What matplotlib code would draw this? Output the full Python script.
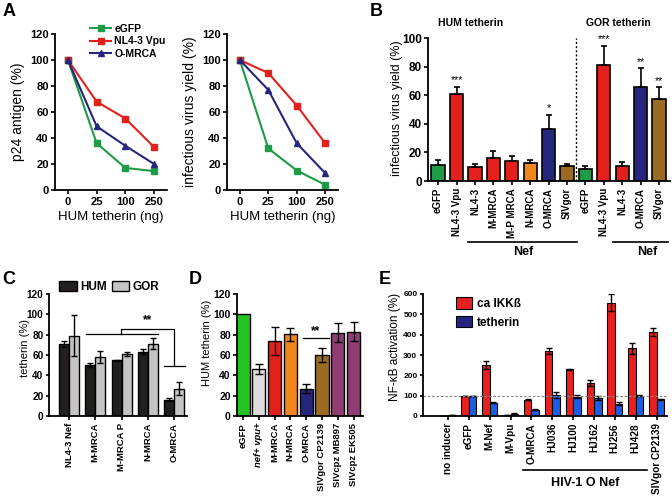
import matplotlib
matplotlib.use("Agg")
import matplotlib.pyplot as plt
from matplotlib.lines import Line2D
from matplotlib.patches import Patch
import numpy as np

plt.rcParams['font.family'] = ['Liberation Sans', 'DejaVu Sans']
plt.rcParams['font.weight'] = 'bold'

# ---- data ----
# A: dose response
a_doses = ['0', '25', '100', '250']
a_p24_egfp = [100, 36, 17, 14.5]
a_p24_vpu = [100, 68, 55, 33]
a_p24_omrca = [100, 49, 34, 20]
a_inf_egfp = [100, 32, 15, 4]
a_inf_vpu = [100, 90, 65, 36]
a_inf_omrca = [100, 77, 36, 13]

# B: infectious virus yield
b_labels = ['eGFP', 'NL4-3 Vpu', 'NL4-3', 'M-MRCA', 'M-P MRCA', 'N-MRCA', 'O-MRCA', 'SIVgor',
            'eGFP', 'NL4-3 Vpu', 'NL4-3', 'O-MRCA', 'SIVgor']
b_values = [11, 60.5, 9.8, 16.4, 13.8, 12.6, 36.5, 10.3, 8.2, 81, 10.5, 66, 57]
b_errors = [3.5, 5.5, 2.2, 4.4, 3.5, 1.9, 10, 1.9, 2.1, 13.5, 2.8, 12.7, 8.5]
b_stars = ['', '***', '', '', '', '', '*', '', '', '***', '', '**', '**']

# C: tetherin HUM / GOR
c_labels = ['NL4-3 Nef', 'M-MRCA', 'M-MRCA P', 'N-MRCA', 'O-MRCA']
c_hum = [71, 50, 55, 63, 16]
c_hum_err = [3, 2, 0.5, 2.5, 1.5]
c_gor = [79, 58, 61, 71, 27]
c_gor_err = [20, 6, 2, 5.5, 6]

# D: HUM tetherin
d_labels = ['eGFP', 'nef+ vpu+', 'M-MRCA', 'N-MRCA', 'O-MRCA', 'SIVgor CP2139', 'SIVcpz MB897', 'SIVcpz EK505']
d_values = [100, 46.5, 74, 80.5, 27, 60, 82, 83]
d_errors = [0, 5, 14, 6.5, 4, 7, 9, 9.5]

# E: NF-kB activation
e_labels = ['no inducer', 'eGFP', 'M-Nef', 'M-Vpu', 'O-MRCA', 'HJ036', 'HJ100', 'HJ162', 'HJ256', 'HJ428', 'SIVgor CP2139']
e_ikk = [0, 100, 250, 3, 81, 319, 229, 163, 557, 332, 413]
e_ikk_err = [0, 0, 21, 0, 3, 16, 2, 13, 43, 27, 18]
e_teth = [3, 100, 66, 12, 31, 102, 94, 90, 61, 99, 82]
e_teth_err = [0, 0, 3, 2, 3, 15, 7, 10, 6, 2, 4]

GREEN = '#1f9a47'
RED = '#e3211c'
ORANGE = '#f0861c'
NAVY = '#27267f'
BROWN = '#9b6b23'
PURPLE = '#8f3d72'

fig = plt.figure(figsize=(6.72, 5), dpi=100)
W, H = 672.0, 500.0


def px_axes(x0, y0, x1, y1):
    ax = fig.add_axes([x0 / W, 1 - y1 / H, (x1 - x0) / W, (y1 - y0) / H])
    ax.spines['top'].set_visible(False)
    ax.spines['right'].set_visible(False)
    ax.spines['left'].set_linewidth(1.3)
    ax.spines['bottom'].set_linewidth(1.3)
    ax.tick_params(direction='out', length=3, width=1.2)
    ax.tick_params(axis='y', pad=1.5)
    ax.tick_params(axis='x', pad=2)
    return ax


def ftext(x, y, s, **kw):
    fig.text(x / W, 1 - y / H, s, **kw)


def fline(x0, x1, y, lw=1.2):
    fig.add_artist(Line2D([x0 / W, x1 / W], [1 - y / H, 1 - y / H], color='black', lw=lw,
                          transform=fig.transFigure))


# ---- panel A ----
for idx, (x0, x1, ylab, series) in enumerate([
        (55, 167, 'p24 antigen (%)', (a_p24_egfp, a_p24_vpu, a_p24_omrca)),
        (227, 338, 'infectious virus yield (%)', (a_inf_egfp, a_inf_vpu, a_inf_omrca))]):
    ax = px_axes(x0, 34, x1, 190)
    x = np.arange(len(a_doses))
    ax.plot(x, series[0], '-s', color=GREEN, ms=4.5, lw=1.5, label='eGFP')
    ax.plot(x, series[1], '-s', color=RED, ms=4.5, lw=1.5, label='NL4-3 Vpu')
    ax.plot(x, series[2], '-^', color=NAVY, ms=4.5, lw=1.5, label='O-MRCA')
    ax.set_xlim(-0.45, 3.45)
    ax.set_ylim(0, 120)
    ax.set_yticks([0, 20, 40, 60, 80, 100, 120])
    ax.set_xticks(x)
    ax.set_xticklabels(a_doses)
    ax.tick_params(labelsize=8)
    ax.set_xlabel('HUM tetherin (ng)', fontsize=9.5, labelpad=3)
    ax.set_ylabel(ylab, fontsize=10)
    ax.yaxis.set_label_coords(-0.27, 0.5)
    if idx == 0:
        ax.legend(loc='upper left', bbox_to_anchor=(0.27, 1.1), frameon=False, fontsize=7.5,
                  handlelength=2.0, handletextpad=0.3, labelspacing=0.25, borderpad=0)
ftext(9, 12, 'A', fontsize=13, ha='center', va='center')

# ---- panel B ----
axb = px_axes(428, 38, 670, 181)
xb = np.arange(len(b_labels))
b_colors = [GREEN, RED, RED, RED, RED, ORANGE, NAVY, BROWN, GREEN, RED, RED, NAVY, BROWN]
axb.bar(xb, b_values, width=0.72, color=b_colors, edgecolor='black', lw=1.2)
axb.errorbar(xb, b_values, yerr=[np.zeros(len(b_values)), b_errors], fmt='none', ecolor='black',
             elinewidth=1.2, capsize=2.5, capthick=1.2)
for xi, v, e, s in zip(xb, b_values, b_errors, b_stars):
    if s:
        axb.text(xi, v + e + 1, s, ha='center', va='bottom', fontsize=7.5, fontweight='normal')
axb.axvline(7.5, color='black', lw=1, ls=(0, (1.5, 1.5)))
axb.set_xlim(-0.55, 12.6)
axb.set_ylim(0, 100)
axb.set_yticks([0, 20, 40, 60, 80, 100])
axb.set_xticks(xb)
axb.set_xticklabels(b_labels, rotation=90, fontsize=7)
axb.tick_params(axis='y', labelsize=8.5)
axb.set_ylabel('infectious virus yield (%)', fontsize=9)
axb.yaxis.set_label_coords(-0.103, 0.51)
ftext(471, 23, 'HUM tetherin', fontsize=7.5, ha='center', va='center')
ftext(618, 23, 'GOR tetherin', fontsize=7.5, ha='center', va='center')
fline(468, 577, 242)
fline(613, 668, 242)
ftext(523, 252, 'Nef', fontsize=9, ha='center', va='center')
ftext(647, 252, 'Nef', fontsize=9, ha='center', va='center')
ftext(376, 11, 'B', fontsize=13, ha='center', va='center')

# ---- panel C ----
axc = px_axes(49, 294, 187, 416)
xc = np.arange(len(c_labels))
axc.bar(xc - 0.19, c_hum, width=0.37, color='#231f1f', edgecolor='black', lw=1, label='HUM')
axc.bar(xc + 0.19, c_gor, width=0.37, color='#c4c4c4', edgecolor='black', lw=1, label='GOR')
axc.errorbar(xc - 0.19, c_hum, yerr=c_hum_err, fmt='none', ecolor='black', elinewidth=1,
             capsize=2.5, capthick=1)
axc.errorbar(xc + 0.19, c_gor, yerr=c_gor_err, fmt='none', ecolor='black', elinewidth=1,
             capsize=2.5, capthick=1)
axc.plot([0.65, 3.36], [80.5, 80.5], color='black', lw=0.9)
axc.plot([1.98, 1.98, 3.97, 3.97], [80.5, 85.5, 85.5, 49.5], color='black', lw=0.9)
axc.plot([3.59, 4.41], [49.5, 49.5], color='black', lw=0.9)
axc.text(2.97, 88, '**', ha='center', va='bottom', fontsize=8.5)
axc.set_xlim(-0.76, 4.48)
axc.set_ylim(0, 120)
axc.set_yticks([0, 20, 40, 60, 80, 100, 120])
axc.set_xticks(xc)
axc.set_xticklabels(c_labels, rotation=90, fontsize=6.8)
axc.tick_params(axis='y', labelsize=7.2, length=2.5)
axc.set_ylabel('tetherin (%)', fontsize=8, fontweight='normal')
axc.yaxis.set_label_coords(-0.135, 0.56)
axc.legend(loc='lower left', bbox_to_anchor=(0.03, 0.96), ncol=2, frameon=False, fontsize=8.5,
           handlelength=1.5, handleheight=1.0, handletextpad=0.3, columnspacing=0.4, borderpad=0)
ftext(9, 279, 'C', fontsize=13, ha='center', va='center')

# ---- panel D ----
axd = px_axes(237, 294, 363, 416)
xd = np.arange(len(d_labels))
d_colors = ['#22c322', '#dcdcdc', RED, ORANGE, NAVY, BROWN, PURPLE, PURPLE]
axd.bar(xd, d_values, width=0.84, color=d_colors, edgecolor='black', lw=1)
axd.errorbar(xd[1:], d_values[1:], yerr=d_errors[1:], fmt='none', ecolor='black', elinewidth=1,
             capsize=2.8, capthick=1)
axd.plot([3.8, 5.44], [76.5, 76.5], color='black', lw=0.9)
axd.text(4.6, 78, '**', ha='center', va='bottom', fontsize=8.5)
axd.set_xlim(-0.38, 7.6)
axd.set_ylim(0, 120)
axd.set_yticks([0, 20, 40, 60, 80, 100, 120])
axd.set_xticks(xd)
axd.set_xticklabels(d_labels, rotation=90, fontsize=6.8)
axd.get_xticklabels()[1].set_style('italic')
axd.tick_params(axis='y', labelsize=7.5)
axd.set_ylabel('HUM tetherin (%)', fontsize=8, fontweight='normal')
axd.yaxis.set_label_coords(-0.2, 0.6)
ftext(195, 280, 'D', fontsize=13, ha='center', va='center')

# ---- panel E ----
axe = px_axes(423, 294, 667, 416)
xe = np.arange(len(e_labels))
axe.bar(xe - 0.18, e_ikk, width=0.36, color='#e8201f', edgecolor='black', lw=0.8)
axe.bar(xe + 0.18, e_teth, width=0.36, color='#1d5de6', edgecolor='black', lw=0.8)
axe.errorbar(xe - 0.18, e_ikk, yerr=e_ikk_err, fmt='none', ecolor='black', elinewidth=1,
             capsize=2.2, capthick=1)
axe.errorbar(xe + 0.18, e_teth, yerr=e_teth_err, fmt='none', ecolor='black', elinewidth=1,
             capsize=2.2, capthick=1)
axe.axhline(100, color='#888888', lw=0.9, ls=(0, (2, 1.5)))
axe.set_xlim(-1.2, 10.5)
axe.set_ylim(0, 600)
axe.set_yticks([0, 100, 200, 300, 400, 500, 600])
axe.set_xticks(xe)
axe.set_xticklabels(e_labels, rotation=90, fontsize=7.2)
axe.tick_params(axis='y', labelsize=6, length=2.5)
axe.set_ylabel('NF-\u03baB activation (%)', fontsize=8.5)
axe.yaxis.set_label_coords(-0.09, 0.57)
handles = [Patch(facecolor='#e8201f', edgecolor='black', lw=0.8, label='ca IKK\u00df'),
           Patch(facecolor='#242485', edgecolor='black', lw=0.8, label='tetherin')]
axe.legend(handles=handles, loc='upper left', bbox_to_anchor=(0.11, 1.02), frameon=False,
           fontsize=8.5, handlelength=1.4, handleheight=1.1, handletextpad=0.4,
           labelspacing=0.5, borderpad=0)
fline(523, 647, 470)
ftext(585, 483, 'HIV-1 O Nef', fontsize=9, ha='center', va='center')
ftext(385, 279, 'E', fontsize=13, ha='center', va='center')

fig.savefig('out.png', dpi=100)
